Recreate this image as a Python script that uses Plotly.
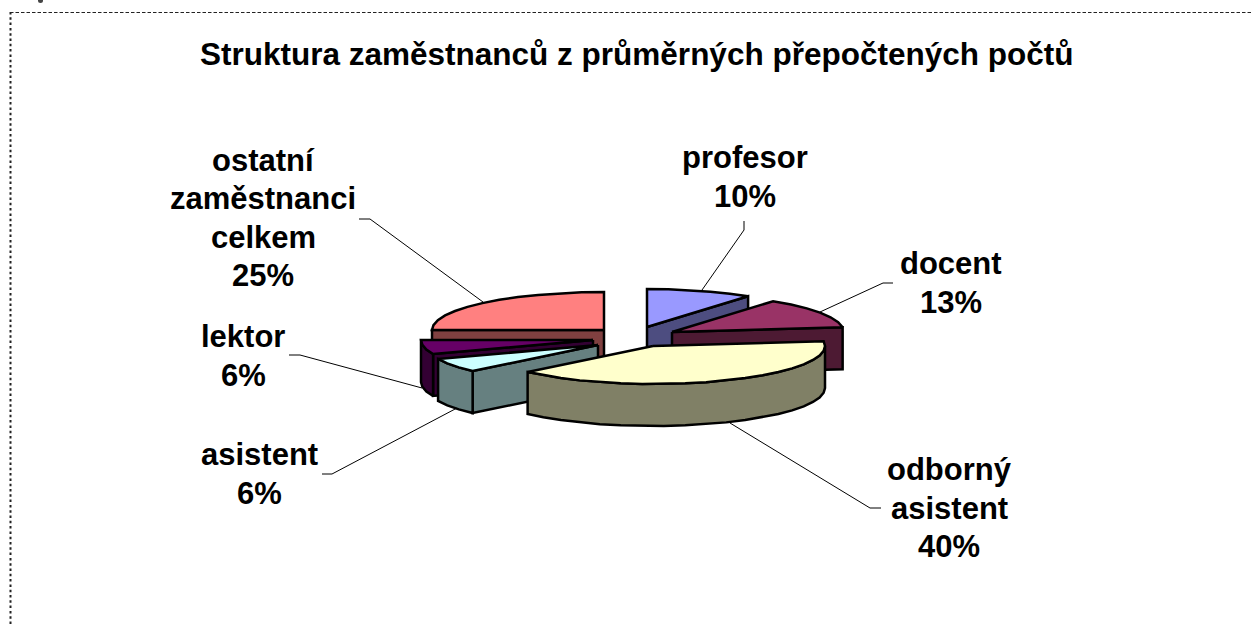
import numpy as np
import plotly.graph_objects as go

title = "Struktura zaměstnanců z průměrných přepočtených počtů"
categories = ["profesor", "docent", "odborný asistent", "asistent", "lektor", "ostatní zaměstnanci celkem"]
values = [10, 13, 40, 6, 6, 25]
label_lines = [["profesor"], ["docent"], ["odborný", "asistent"], ["asistent"], ["lektor"], ["ostatní", "zaměstnanci", "celkem"]]

top_colors = ["#9999FF", "#993366", "#FFFFCC", "#CCFFFF", "#660066", "#FF8080"]
side_colors = ["#4D4D80", "#4D1A33", "#808066", "#668080", "#330033", "#804040"]
draw_order = [5, 0, 1, 4, 3, 2]

# pie projection (pixel space of the hidden axes)
CX, CY = 626, 336
RX, RY, DEPTH = 172, 38, 42
explode = [(21, -9), (46, -4), (27, 10), (-28, 9), (-33, 4), (-22, -6)]
label_pos = [(745, 177), (951, 283), (949, 508), (259, 474), (243, 356), (263, 218)]
LINE_STEP = 38.5
leaders = [
    [(744, 221), (744, 230), (702, 290)],
    [(893, 283), (883, 283), (820, 312)],
    [(881, 508), (870, 508), (730, 423)],
    [(322, 474), (332, 474), (457, 408)],
    [(289, 355), (300, 355), (422, 388)],
    [(359, 219), (370, 219), (483, 302)],
]

fig = go.Figure()


def poly(pts, color, width=2.5):
    p = np.array(pts + [pts[0]], dtype=float)
    fig.add_trace(go.Scatter(x=p[:, 0], y=p[:, 1], mode="lines", fill="toself", fillcolor=color,
                             line=dict(color="black", width=width), hoverinfo="skip", showlegend=False))


edges = np.cumsum([0] + values) / sum(values) * 360.0


def arc_points(ax, ay, t0, t1):
    n = max(2, int((t1 - t0) / 7) + 1)
    ts = np.radians(np.linspace(t0, t1, n))
    return [(ax + RX * np.sin(t), ay - RY * np.cos(t)) for t in ts]


def down(pts):
    return [(x, y + DEPTH) for x, y in pts]


for i in draw_order:
    t0, t1 = edges[i], edges[i + 1]
    ax, ay = CX + explode[i][0], CY + explode[i][1]
    arc = arc_points(ax, ay, t0, t1)
    apex = (ax, ay)
    if np.sin(np.radians(t1)) > 0.01:
        poly([apex, arc[-1]] + down([arc[-1], apex]), side_colors[i])
    if np.sin(np.radians(t0)) < -0.01:
        poly([apex, arc[0]] + down([arc[0], apex]), side_colors[i])
    lo, hi = max(t0, 90), min(t1, 270)
    if hi > lo:
        rim = arc_points(ax, ay, lo, hi)
        poly(rim + down(rim[::-1]), side_colors[i])
    poly([apex] + arc, top_colors[i])

for seg in leaders:
    s = np.array(seg, dtype=float)
    fig.add_trace(go.Scatter(x=s[:, 0], y=s[:, 1], mode="lines", line=dict(color="black", width=1),
                             hoverinfo="skip", showlegend=False))

FONT = dict(family="Liberation Sans", size=31, color="black")
for lines, v, (x, y) in zip(label_lines, values, label_pos):
    rows = lines + [f"{v}%"]
    for k, t in enumerate(rows):
        fig.add_annotation(x=x, y=y + (k - (len(rows) - 1) / 2) * LINE_STEP, text=f"<b>{t}</b>", showarrow=False,
                           font=FONT, align="center", xanchor="center", yanchor="middle")

fig.add_annotation(x=636, y=54, text=f"<b>{title}</b>", showarrow=False,
                   font=dict(family="Liberation Sans", size=31.5, color="black"),
                   xanchor="center", yanchor="middle")

fig.add_shape(type="line", x0=10.5, x1=10.5, y0=12, y1=626, line=dict(color="#222", width=2, dash="2.5px,2.8px"))
fig.add_shape(type="line", x0=10, x1=1252, y0=12.5, y1=12.5, line=dict(color="#222", width=1, dash="3.5px,2px"))
fig.add_trace(go.Scatter(x=[40.5], y=[0.5], mode="markers", marker=dict(color="#444", size=5),
                         hoverinfo="skip", showlegend=False, cliponaxis=True))

fig.update_xaxes(range=[0, 1252], visible=False, fixedrange=True)
fig.update_yaxes(range=[626, 0], visible=False, fixedrange=True)
fig.update_layout(width=1252, height=626, margin=dict(l=0, r=0, t=0, b=0), plot_bgcolor="white",
                  paper_bgcolor="white", showlegend=False)
fig.write_html("out.html", post_script="document.body.style.margin='0';", config={"displayModeBar": False})
